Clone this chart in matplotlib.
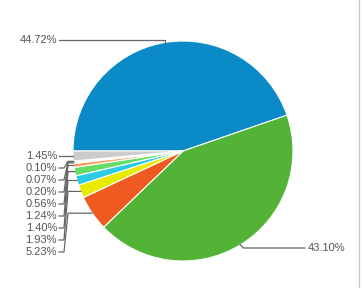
import numpy as np
import matplotlib
matplotlib.use("Agg")
import matplotlib.pyplot as plt

labels = ["44.72%", "43.10%", "5.23%", "1.93%", "1.40%", "1.24%", "0.56%", "0.20%", "0.07%", "0.10%", "1.45%"]
values = [44.72, 43.10, 5.23, 1.93, 1.40, 1.24, 0.56, 0.20, 0.07, 0.10, 1.45]
colors = ["#0a8ac6", "#52b336", "#ee5a1f", "#eaea00", "#2ccbe4", "#66dd66",
          "#ff9a5a", "#f4f4f4", "#e8e8e8", "#f7f7f7", "#cccccc"]

W, H = 362, 288
fig = plt.figure(figsize=(W / 100, H / 100), dpi=100)
ax = fig.add_axes([0, 0, 1, 1])
ax.set_xlim(0, W)
ax.set_ylim(0, H)
ax.set_aspect("equal")
ax.axis("off")

cx, cy, r = 183, H - 151, 110
wedges, _ = ax.pie(values, colors=colors, startangle=180, counterclock=False,
                   center=(cx, cy), radius=r, frame=True,
                   wedgeprops=dict(edgecolor="white", linewidth=0.8))
ax.set_xlim(0, W)
ax.set_ylim(0, H)
ax.axis("off")

line_c = "#666666"
txt_c = "#555555"
fs = 8

def edge_point(w):
    a = np.deg2rad((w.theta1 + w.theta2) / 2)
    return cx + r * np.cos(a), cy + r * np.sin(a)

# top label (44.72%)
ex, ey = edge_point(wedges[0])
ly = H - 40
ax.plot([59, ex, ex], [ly, ly, ey], color=line_c, lw=0.9)
ax.text(57, ly, labels[0], ha="right", va="center", fontsize=fs, color=txt_c,
        family="Liberation Sans")

# right label (43.10%)
ex, ey = edge_point(wedges[1])
ly = H - 248
ax.plot([ex, ex + 3, 305], [ey, ly, ly], color=line_c, lw=0.9)
ax.text(308, ly, labels[1], ha="left", va="center", fontsize=fs, color=txt_c,
        family="Liberation Sans")

# left labels, from top: 1.45% ... 5.23%
left_idx = [10, 9, 8, 7, 6, 5, 4, 3, 2]
for k, i in enumerate(left_idx):
    ly = H - (156 + 12 * k)
    ex, ey = edge_point(wedges[i])
    if i == 10:
        ax.plot([59, ex], [ly, ly], color=line_c, lw=0.9)
    else:
        ax.plot([59, 64, 68, ex], [ly, ly, ey, ey], color=line_c, lw=0.9)
    ax.text(57, ly, labels[i], ha="right", va="center", fontsize=fs, color=txt_c,
            family="Liberation Sans")

ax.plot([359, 359], [0, H], color="#c8c8c8", lw=1)

fig.savefig("out.png", dpi=100)
